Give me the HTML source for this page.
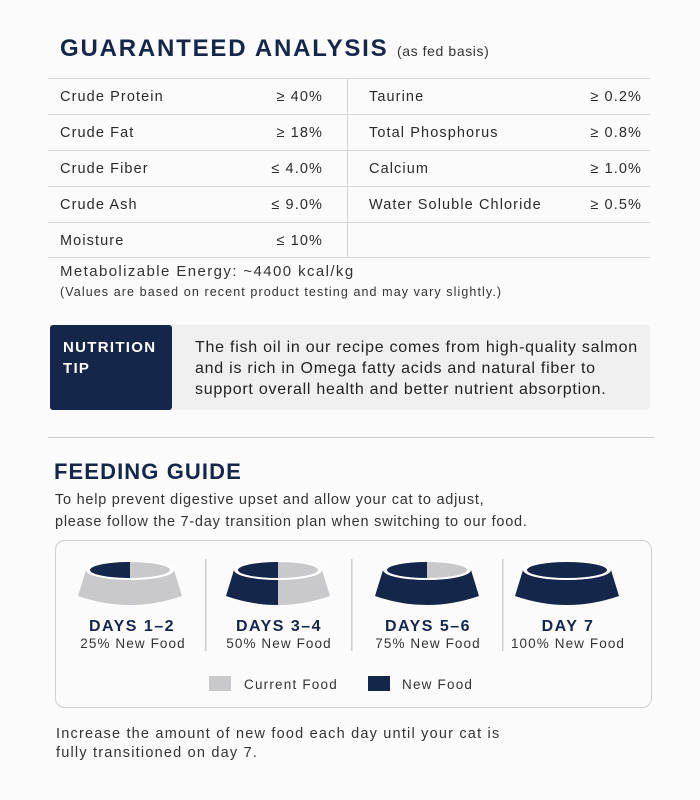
<!DOCTYPE html>
<html><head><meta charset="utf-8"><style>
*{margin:0;padding:0;box-sizing:border-box}
body{width:700px;height:800px;background:#fbfbfb;font-family:"Liberation Sans",sans-serif;color:#222;position:relative;overflow:hidden}
.a{position:absolute}
.navy{color:#14264a}
.tb{position:absolute;left:48px;top:78px;width:602px}
.row{position:absolute;left:0;width:602px;height:36px;border-top:1px solid #d8d8d8;font-size:14.5px;letter-spacing:1.1px;color:#2a2a2a}
.row span{position:absolute;top:10px}
.v{right:327px}
.w{right:8px}
</style></head><body>
<div class="a navy" style="left:60px;top:35px;font-size:24px;font-weight:bold;letter-spacing:1.8px">GUARANTEED ANALYSIS <span style="font-size:14px;font-weight:normal;color:#333;letter-spacing:0.6px">(as fed basis)</span></div>
<div class="tb">
 <div class="row" style="top:0"><span style="left:12px">Crude Protein</span><span class="v">≥ 40%</span><span style="left:321px">Taurine</span><span class="w">≥ 0.2%</span></div>
 <div class="row" style="top:36px"><span style="left:12px">Crude Fat</span><span class="v">≥ 18%</span><span style="left:321px">Total Phosphorus</span><span class="w">≥ 0.8%</span></div>
 <div class="row" style="top:72px"><span style="left:12px">Crude Fiber</span><span class="v">≤ 4.0%</span><span style="left:321px">Calcium</span><span class="w">≥ 1.0%</span></div>
 <div class="row" style="top:108px"><span style="left:12px">Crude Ash</span><span class="v">≤ 9.0%</span><span style="left:321px">Water Soluble Chloride</span><span class="w">≥ 0.5%</span></div>
 <div class="row" style="top:144px;border-bottom:1px solid #d8d8d8"><span style="left:12px">Moisture</span><span class="v">≤ 10%</span></div>
 <div class="a" style="left:299px;top:0;width:1px;height:180px;background:#d8d8d8"></div>
</div>
<div class="a" style="left:60px;top:263px;font-size:15px;letter-spacing:1.4px;color:#333">Metabolizable Energy: ~4400 kcal/kg</div>
<div class="a" style="left:60px;top:285px;font-size:12.5px;letter-spacing:1.1px;color:#333">(Values are based on recent product testing and may vary slightly.)</div>
<div class="a" style="left:50px;top:325px;width:600px;height:85px;background:#f0f0f0;border-radius:4px"></div>
<div class="a" style="left:50px;top:325px;width:122px;height:85px;background:#14264a;border-radius:3px;color:#fff;font-weight:bold;font-size:15px;letter-spacing:1.3px;line-height:21px;padding:12px 0 0 13px">NUTRITION<br>TIP</div>
<div class="a" style="left:195px;top:337px;font-size:16px;letter-spacing:0.75px;line-height:21px;color:#222;white-space:nowrap">The fish oil in our recipe comes from high-quality salmon<br>and is rich in Omega fatty acids and natural fiber to<br>support overall health and better nutrient absorption.</div>
<div class="a" style="left:48px;top:437px;width:606px;height:1px;background:#ccc"></div>
<div class="a navy" style="left:54px;top:459px;font-size:22px;font-weight:bold;letter-spacing:1.1px">FEEDING GUIDE</div>
<div class="a" style="left:55px;top:489px;font-size:14.5px;letter-spacing:0.75px;line-height:22px;color:#333;white-space:nowrap">To help prevent digestive upset and allow your cat to adjust,<br>please follow the 7-day transition plan when switching to our food.</div>
<div class="a" style="left:55px;top:540px;width:597px;height:168px;border:1px solid #cfcfcf;border-radius:10px;background:#fbfbfb"></div>
<svg class="a" style="left:0;top:0" width="700" height="800">
<defs>
<path id="body" d="M-44,570 L-52,596 Q0,614 52,596 L44,570 Z"/>
<clipPath id="L"><rect x="-60" y="550" width="60" height="70"/></clipPath>
</defs>
<g transform="translate(130,0)">
 <use href="#body" fill="#c9c9cb"/><ellipse cx="0" cy="570" rx="44" ry="10" fill="#fff"/>
 <ellipse cx="0" cy="570" rx="40" ry="8" fill="#c9c9cb"/>
 <path d="M0,562 A40,8 0 0 0 0,578 Z" fill="#14264a"/>
</g>
<g transform="translate(278,0)">
 <use href="#body" fill="#c9c9cb"/><use href="#body" fill="#14264a" clip-path="url(#L)"/>
 <ellipse cx="0" cy="570" rx="44" ry="10" fill="#fff"/>
 <ellipse cx="0" cy="570" rx="40" ry="8" fill="#c9c9cb"/>
 <path d="M0,562 A40,8 0 0 0 0,578 Z" fill="#14264a"/>
</g>
<g transform="translate(427,0)">
 <use href="#body" fill="#14264a"/><ellipse cx="0" cy="570" rx="44" ry="10" fill="#fff"/>
 <ellipse cx="0" cy="570" rx="40" ry="8" fill="#c9c9cb"/>
 <path d="M0,562 A40,8 0 0 0 0,578 Z" fill="#14264a"/>
</g>
<g transform="translate(567,0)">
 <use href="#body" fill="#14264a"/><ellipse cx="0" cy="570" rx="44" ry="10" fill="#fff"/>
 <ellipse cx="0" cy="570" rx="40" ry="8" fill="#14264a"/>
</g>
<g fill="#cfcfcf"><rect x="205" y="559" width="1.5" height="92"/><rect x="351" y="559" width="1.5" height="92"/><rect x="502" y="559" width="1.5" height="92"/></g>
<g font-family="Liberation Sans,sans-serif" text-anchor="middle">
<g font-weight="bold" font-size="16" fill="#14264a" letter-spacing="1.5">
<text x="132" y="631">DAYS 1–2</text><text x="279" y="631">DAYS 3–4</text><text x="428" y="631">DAYS 5–6</text><text x="568" y="631">DAY 7</text></g>
<g font-size="13.5" fill="#333" letter-spacing="1.1">
<text x="133" y="648">25% New Food</text><text x="279" y="648">50% New Food</text><text x="428" y="648">75% New Food</text><text x="568" y="648">100% New Food</text></g>
</g>
<rect x="209" y="676" width="22" height="15" fill="#c9c9cb"/>
<rect x="368" y="676" width="22" height="15" fill="#14264a"/>
<text x="244" y="689" font-family="Liberation Sans,sans-serif" font-size="13.5" letter-spacing="1.2" fill="#333">Current Food</text>
<text x="402" y="689" font-family="Liberation Sans,sans-serif" font-size="13.5" letter-spacing="1.2" fill="#333">New Food</text>
</svg>
<div class="a" style="left:56px;top:725px;font-size:14.5px;letter-spacing:1.2px;line-height:19px;color:#333;white-space:nowrap">Increase the amount of new food each day until your cat is<br>fully transitioned on day 7.</div>
</body></html>
